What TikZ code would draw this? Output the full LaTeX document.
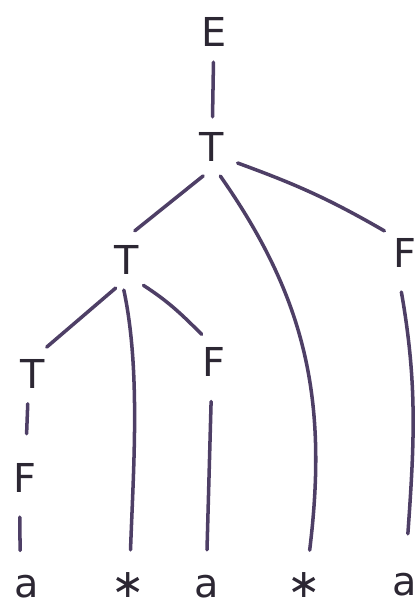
\documentclass[tikz,border=0pt]{standalone}
\usepackage{fontspec}
\setmainfont{DejaVu Sans}
\definecolor{ptInk}{HTML}{2C2733}
\definecolor{ptLine}{HTML}{4E3F66}
\begin{document}
\begin{tikzpicture}[x=0.03cm,y=-0.03cm,sym/.style={circle,minimum size=1.8cm,inner sep=0pt,text=ptInk,font=\fontsize{34}{36}\selectfont},leaf/.style={sym,minimum size=2.16cm,text height=19pt,text depth=0pt},branch/.style={draw=ptLine,line width=3pt,line cap=round}]
\useasboundingbox (0,0) rectangle (419,605);
\node[sym] (e) at (214,32) {E};
\node[sym] (t1) at (212,147) {T};
\node[sym] (t2) at (127,260) {T};
\node[sym] (f1) at (405,253) {F};
\node[sym] (t3) at (33,374) {T};
\node[sym] (f2) at (214,362) {F};
\node[sym] (f3) at (25,478) {F};
\node[leaf] (l1) at (27,586) {a};
\node[leaf] (l2) at (128,586) {∗};
\node[leaf] (l3) at (207,586) {a};
\node[leaf] (l4) at (304,586) {∗};
\node[leaf] (l5) at (405,584) {a};
\draw[branch] (e) -- (t1);
\draw[branch] (t1.253) -- (t2.75);
\draw[branch] (t1.-74) to[out=-55,in=83] (l4.81);
\draw[branch] (t1.-32) to[out=-20,in=150] (f1.133);
\draw[branch,shorten <=8pt,shorten >=12pt] (f1.-100) to[out=-80,in=86] (l5.87);
\draw[branch] (t2.248) -- (t3.63);
\draw[branch] (t2.-96) to[out=-78,in=88,looseness=.8] (l2.86);
\draw[branch] (t2.-57) to[out=-33,in=135] (f2.114);
\draw[branch,shorten >=12pt] (t3.-100) -- (f3.88);
\draw[branch,shorten <=8pt] (f3.-100) -- (l1.101);
\draw[branch,shorten <=8pt] (f2.-95) -- (l3.90);
\end{tikzpicture}
\end{document}
